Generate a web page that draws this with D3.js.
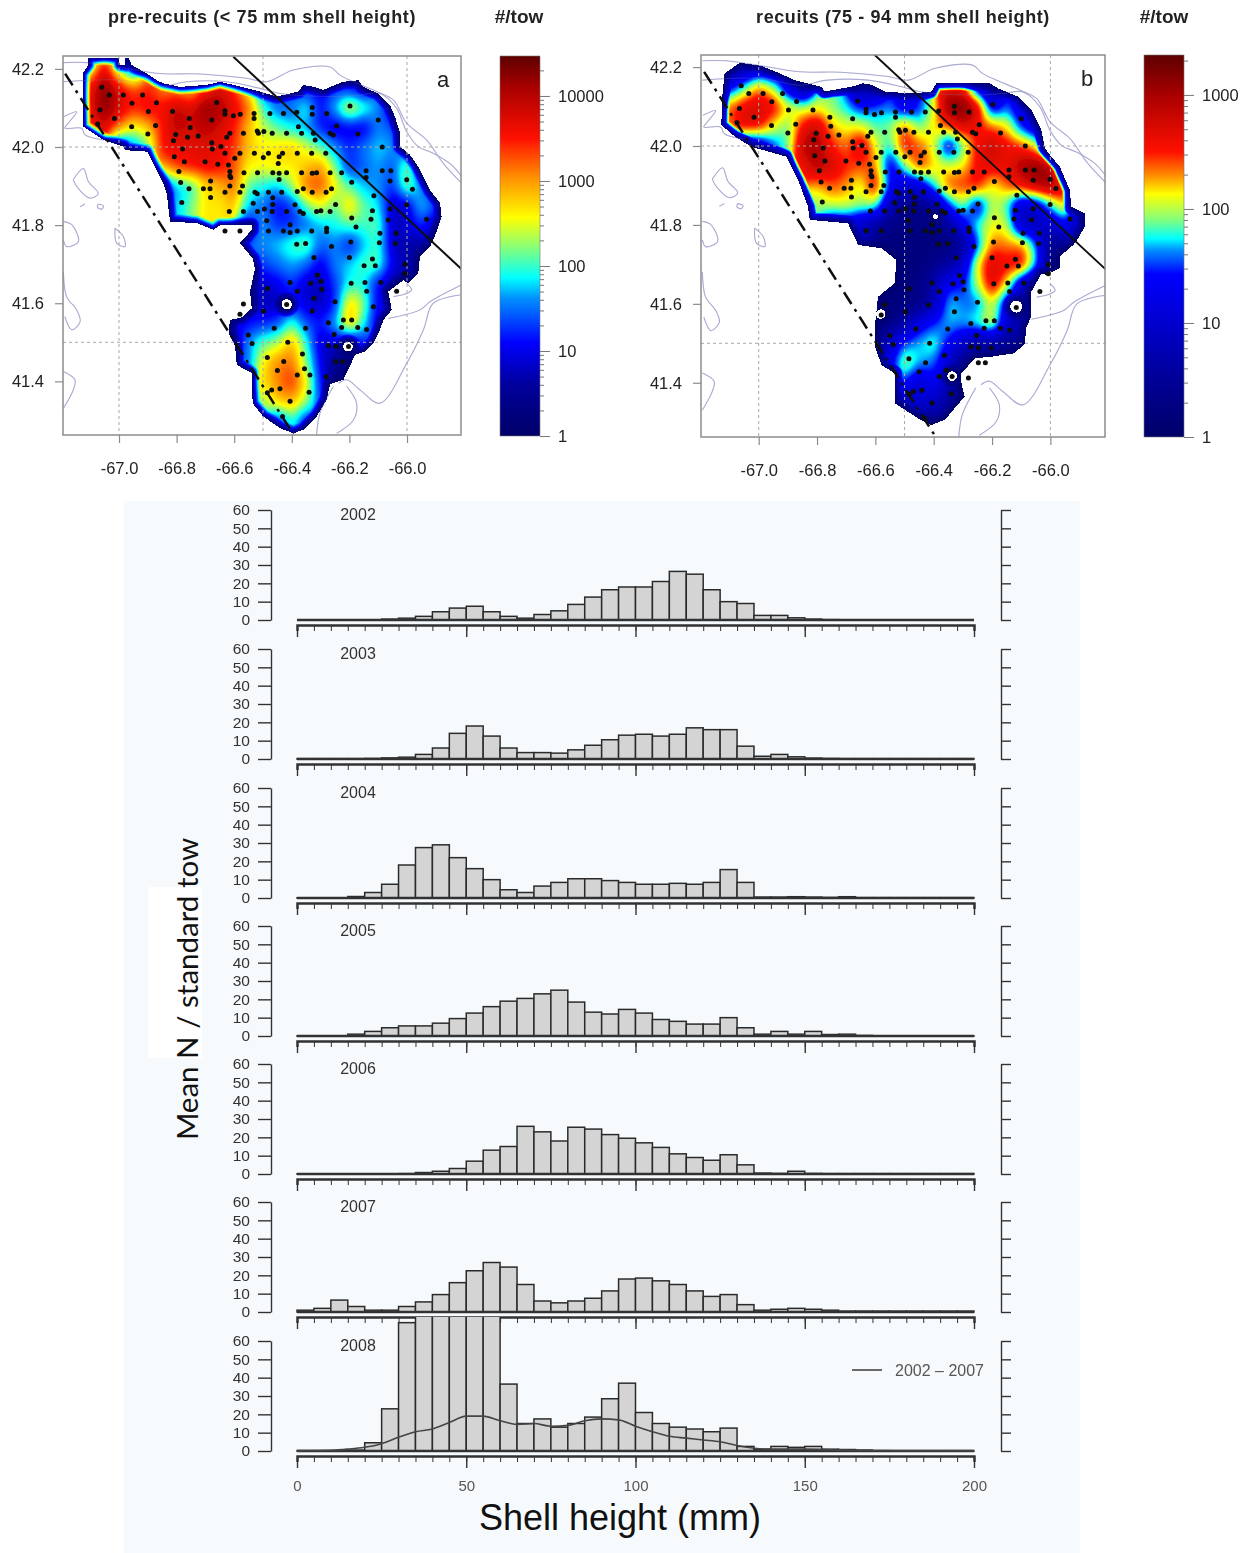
<!DOCTYPE html>
<html>
<head>
<meta charset="utf-8">
<title>Scallop density maps and shell height frequencies</title>
<script src="https://cdn.jsdelivr.net/npm/d3@7"></script>
<style>
  html, body { margin: 0; padding: 0; background: #fff; }
  svg { display: block; }
  text { font-family: "Liberation Sans", sans-serif; }
  .axisLine path, .axisLine line { stroke: #333; }
</style>
</head>
<body>
<svg id="chart" width="1251" height="1553"></svg>
<script>
/* ===== Data: histograms ===== */
const years = [2002, 2003, 2004, 2005, 2006, 2007, 2008];
const binStarts = d3.range(0, 200, 5);

const n2002 = [0,0,0,0,0,0.5,1,2,4.5,6.5,7.5,4.5,2,1,3,5,8.5,12.5,16.5,18,18,21,26.5,25,16.5,10,9,2.5,2.5,1.2,0.5,0.2,0,0,0,0,0,0,0,0];
const n2003 = [0.2,0.2,0.2,0.2,0.3,0.6,1,2.5,6,14,18,12.5,6,3.5,3.5,3.2,5,7.5,10.5,13,13.5,12.5,13.5,17,16,16,7,1.5,2.5,1.2,0.5,0.3,0.2,0.2,0.2,0.2,0.2,0.2,0.2,0.2];
const n2004 = [0.1,0.1,0.1,0.8,3,7.5,18,27.5,29,22,16,10,4.5,3,6.5,8.5,10.5,10.5,9.5,8.5,7.5,7.5,8,7.5,8.5,15.5,8.5,0.5,0.5,0.7,0.5,0.3,0.7,0.2,0.2,0.2,0.2,0.2,0.2,0.2];
const n2005 = [0.1,0.1,0.1,1,2.5,4.5,5.5,5.5,7,9.5,12.5,16,19,20.5,23,25,18.5,13,12,14.5,12.5,9,8,6.5,6.5,10,4.5,1,2.5,1,2.5,0.8,1,0.3,0.1,0.1,0.1,0.1,0.1,0.1];
const n2006 = [0.1,0.1,0.1,0.1,0.1,0.1,0.2,0.8,1.5,3,7,13,15,26,23,18,25.5,24.5,21.5,19.5,17,14.5,11,9,7.5,10.5,5,0.5,0.3,1.5,0.3,0.2,0.2,0.2,0.2,0.2,0.2,0.2,0.2,0.2];
const n2007 = [1,2,6.5,3,1,1,3,5.5,9.5,16,22.5,27,24.5,15,6,5,6,7.5,11.5,18,18.5,17,15,11.5,8.5,9.5,4,1,1.5,2,1.5,1,0.5,0.5,0.5,0.5,0.5,0.5,0.5,0.5];
const n2008 = [0.2,0.2,0.2,0.5,4.5,23,70,75,75,75,75,75,36.5,15,17.5,13,15,18.5,28.5,37,21,15,13,12,10.5,12.5,2.5,1,2.5,2,2.5,1,0.8,0.5,0.2,0.1,0.1,0.1,0.1,0.1];
const seriesByYear = [n2002, n2003, n2004, n2005, n2006, n2007, n2008];

const meanShell = [0,10,15,20,25,30,35,40,45,50,55,60,65,70,75,80,85,90,95,100,105,110,115,120,125,130,135,140,150,160,170,200];
const meanValue = [0.2,0.4,1,2,4,7.5,10.5,12,15.5,19,19,16.5,14.5,15,13.5,14,16.5,17.5,17,13.5,10.5,8,7,6,5,3,1.5,1,1,0.5,0.3,0.2];

const yTicks = [0,10,20,30,40,50,60];
const xLabels = [0,50,100,150,200];

/* ===== Data: maps ===== */
// grid of 10*log10(#/tow). rows go north to south, columns west to east
const gridLons = d3.range(27).map(i => -67.15 + i * 0.05);
const gridLats = d3.range(21).map(i => 42.25 - i * 0.05);

const gridA = [
[0,10,30,10,0,0,0,0,0,0,0,0,0,0,0,0,0,0,0,0,0,0,0,0,0,0,0],
[0,24,40,22,8,0,0,0,0,0,0,0,0,0,0,0,0,0,0,0,0,0,0,0,0,0,0],
[0,36,44,38,34,35,30,30,26,34,38,34,26,10,0,0,10,10,12,10,7,0,0,0,0,0,0],
[0,36,44,38,35,37,36,40,38,43,41,37,33,20,14,14,21,10,18,29,22,16,7,0,0,0,0],
[0,34,38,32,25,28,35,40,38,40,38,35,28,24,21,18,16,11,8,9,8,16,14,3,0,0,0],
[0,0,0,5,15,20,37,36,37,37,37,34,28,26,27,29,25,21,16,12,16,18,17,10,0,0,0],
[0,0,0,0,0,0,30,35,36,37,36,33,26,26,27,26,28,31,22,11,14,17,13,24,6,0,0],
[0,0,0,0,0,0,5,17,18,27,28,33,20,19,17,23,33,34,26,21,17,16,12,24,16,5,0],
[0,0,0,0,0,0,0,17,22,27,26,29,17,15,10,12,21,26,20,29,21,19,7,8,19,14,0],
[0,0,0,0,0,0,0,0,0,0,0,0,9,17,12,12,14,17,19,21,20,22,7,9,13,6,0],
[0,0,0,0,0,0,0,0,0,0,0,0,0,16,18,21,23,14,16,10,17,21,7,7,5,0,0],
[0,0,0,0,0,0,0,0,0,0,0,0,0,13,15,17,15,9,16,18,21,22,10,6,0,0,0],
[0,0,0,0,0,0,0,0,0,0,0,0,0,8,10,13,8,7,13,19,19,10,5,0,0,0,0],
[0,0,0,0,0,0,0,0,0,0,0,0,0,7,7,11,9,7,11,29,23,9,0,0,0,0,0],
[0,0,0,0,0,0,0,0,0,0,0,0,10,12,13,21,13,12,17,32,19,8,0,0,0,0,0],
[0,0,0,0,0,0,0,0,0,0,0,5,17,21,23,30,20,7,10,5,12,0,0,0,0,0,0],
[0,0,0,0,0,0,0,0,0,0,0,0,14,27,31,32,22,10,4,3,0,0,0,0,0,0,0],
[0,0,0,0,0,0,0,0,0,0,0,0,0,27,31,35,27,11,3,0,0,0,0,0,0,0,0],
[0,0,0,0,0,0,0,0,0,0,0,0,0,22,29,30,24,12,0,0,0,0,0,0,0,0,0],
[0,0,0,0,0,0,0,0,0,0,0,0,0,0,10,20,10,0,0,0,0,0,0,0,0,0,0],
[0,0,0,0,0,0,0,0,0,0,0,0,0,0,0,0,0,0,0,0,0,0,0,0,0,0,0]
];
const gridB = [
[0,0,0,0,0,0,0,0,0,0,0,0,0,0,0,0,0,0,0,0,0,0,0,0,0,0,0],
[0,5,5,8,5,0,0,0,0,0,0,0,0,0,0,0,0,0,0,0,0,0,0,0,0,0,0],
[0,12,18,24,20,10,3,0,0,0,5,5,0,0,0,0,25,26,8,4,0,0,0,0,0,0,0],
[0,24,27,28,27,22,20,20,19,17,14,16,16,10,14,20,33,33,30,10,16,10,0,0,0,0,0],
[0,23,28,27,21,18,26,29,22,21,21,18,19,25,18,22,24,28,25,24,22,14,9,0,0,0,0],
[0,0,5,8,15,18,30,30,25,23,29,21,17,27,24,21,10,18,26,29,26,25,22,5,0,0,0],
[0,0,0,0,0,0,25,30,28,25,24,24,11,19,26,22,21,21,26,27,26,30,32,32,8,0,0],
[0,0,0,0,0,0,0,22,24,23,20,28,14,10,11,18,25,25,27,20,24,27,30,31,28,0,0],
[0,0,0,0,0,0,0,19,21,21,20,20,8,3,3,5,15,20,10,21,18,8,10,17,24,6,0],
[0,0,0,0,0,0,0,0,9,11,8,5,3,3,3,3,5,13,19,21,21,8,8,9,14,7,0],
[0,0,0,0,0,0,0,0,0,0,0,0,2,2,2,2,2,4,15,24,23,24,17,3,4,0,0],
[0,0,0,0,0,0,0,0,0,0,0,0,0,2,2,4,6,10,22,28,26,28,18,2,0,0,0],
[0,0,0,0,0,0,0,0,0,0,0,0,0,2,3,7,14,14,20,28,22,9,2,0,0,0,0],
[0,0,0,0,0,0,0,0,0,0,0,0,2,2,3,7,18,16,15,21,12,4,0,0,0,0,0],
[0,0,0,0,0,0,0,0,0,0,0,2,3,6,13,15,17,17,19,23,10,6,0,0,0,0,0],
[0,0,0,0,0,0,0,0,0,0,0,3,10,16,17,19,14,9,4,5,3,0,0,0,0,0,0],
[0,0,0,0,0,0,0,0,0,0,0,0,12,21,17,16,10,3,0,0,0,0,0,0,0,0,0],
[0,0,0,0,0,0,0,0,0,0,0,0,0,15,9,14,8,3,0,0,0,0,0,0,0,0,0],
[0,0,0,0,0,0,0,0,0,0,0,0,0,6,12,9,5,2,0,0,0,0,0,0,0,0,0],
[0,0,0,0,0,0,0,0,0,0,0,0,0,0,3,3,0,0,0,0,0,0,0,0,0,0,0],
[0,0,0,0,0,0,0,0,0,0,0,0,0,0,0,0,0,0,0,0,0,0,0,0,0,0,0]
];

// survey outlines [lon, lat]
const outlineA = [[-67.126,42.188],[-67.106,42.21],[-67.106,42.229],[-67.002,42.229],[-66.997,42.21],[-66.979,42.21],[-66.979,42.229],[-66.968,42.229],[-66.956,42.21],[-66.904,42.188],[-66.869,42.171],[-66.846,42.163],[-66.788,42.154],[-66.696,42.159],[-66.649,42.167],[-66.603,42.159],[-66.51,42.142],[-66.453,42.129],[-66.377,42.142],[-66.36,42.159],[-66.325,42.154],[-66.29,42.146],[-66.267,42.154],[-66.221,42.167],[-66.169,42.171],[-66.152,42.154],[-66.1,42.137],[-66.059,42.107],[-66.042,42.078],[-66.024,42.035],[-66.024,42.001],[-65.99,41.98],[-65.961,41.95],[-65.92,41.89],[-65.885,41.856],[-65.88,41.822],[-65.897,41.783],[-65.92,41.745],[-65.955,41.719],[-65.961,41.676],[-65.995,41.651],[-66.013,41.659],[-66.065,41.63],[-66.053,41.583],[-66.082,41.557],[-66.094,41.532],[-66.117,41.497],[-66.146,41.476],[-66.181,41.468],[-66.198,41.438],[-66.221,41.404],[-66.267,41.393],[-66.279,41.353],[-66.314,41.31],[-66.36,41.276],[-66.395,41.267],[-66.441,41.28],[-66.499,41.31],[-66.536,41.344],[-66.539,41.421],[-66.591,41.442],[-66.597,41.489],[-66.62,41.523],[-66.615,41.557],[-66.574,41.564],[-66.539,41.587],[-66.545,41.63],[-66.534,41.668],[-66.528,41.689],[-66.536,41.715],[-66.58,41.754],[-66.539,41.788],[-66.539,41.8],[-66.591,41.8],[-66.649,41.8],[-66.672,41.788],[-66.73,41.805],[-66.823,41.809],[-66.834,41.881],[-66.846,41.907],[-66.875,41.95],[-66.902,41.988],[-66.979,41.992],[-66.985,42.001],[-67.054,42.018],[-67.089,42.035],[-67.124,42.052]];
const outlineB = [[-67.128,42.053],[-67.126,42.117],[-67.117,42.184],[-67.065,42.211],[-66.991,42.203],[-66.934,42.186],[-66.877,42.167],[-66.785,42.15],[-66.774,42.138],[-66.671,42.152],[-66.642,42.159],[-66.614,42.155],[-66.568,42.138],[-66.477,42.133],[-66.408,42.138],[-66.391,42.159],[-66.305,42.16],[-66.208,42.159],[-66.179,42.146],[-66.111,42.125],[-66.065,42.091],[-66.031,42.041],[-66.019,41.994],[-65.997,41.973],[-65.968,41.948],[-65.934,41.889],[-65.928,41.846],[-65.882,41.829],[-65.882,41.796],[-65.905,41.766],[-65.922,41.749],[-65.968,41.72],[-65.968,41.69],[-66.014,41.673],[-66.031,41.677],[-66.065,41.631],[-66.065,41.568],[-66.082,41.542],[-66.088,41.5],[-66.122,41.475],[-66.202,41.466],[-66.259,41.462],[-66.305,41.424],[-66.305,41.399],[-66.294,41.365],[-66.362,41.306],[-66.408,41.293],[-66.454,41.31],[-66.534,41.348],[-66.534,41.424],[-66.579,41.445],[-66.602,41.492],[-66.602,41.542],[-66.591,41.618],[-66.534,41.652],[-66.528,41.711],[-66.579,41.741],[-66.659,41.749],[-66.694,41.804],[-66.825,41.813],[-66.831,41.846],[-66.865,41.914],[-66.905,41.973],[-67.025,41.998],[-67.082,42.024]];

// holes in the surface [lon, lat, radius in degrees of latitude]
const holesA = [[-66.418,41.597,0.013],[-66.205,41.489,0.012]];
const holesB = [[-66.582,41.574,0.012],[-66.117,41.593,0.015],[-66.337,41.417,0.012],[-66.394,41.821,0.006]];

const stations = [[-67.06,42.153],[-67.034,42.133],[-66.985,42.133],[-66.918,42.133],[-66.955,42.112],[-66.87,42.113],[-66.898,42.091],[-67.066,42.095],[-67.016,42.073],[-67.074,42.059],[-66.956,42.052],[-66.873,42.055],[-66.9,42.033],[-66.814,42.091],[-66.756,42.073],[-66.753,42.05],[-66.803,42.032],[-66.811,42.016],[-66.762,42.025],[-66.725,42.028],[-66.678,42.069],[-66.661,42.114],[-66.632,42.093],[-66.632,42.084],[-66.603,42.08],[-66.579,42.084],[-66.531,42.086],[-66.531,42.073],[-66.52,42.041],[-66.516,42.035],[-66.497,42.04],[-66.468,42.035],[-66.568,42.035],[-66.615,42.035],[-66.626,42.025],[-66.418,42.035],[-66.377,42.052],[-66.366,42.035],[-66.325,42.035],[-66.319,42.018],[-66.267,42.035],[-66.256,42.031],[-66.244,42.054],[-66.279,42.086],[-66.329,42.101],[-66.329,42.084],[-66.383,42.089],[-66.429,42.086],[-66.476,42.086],[-66.198,42.105],[-66.1,42.069],[-66.171,42.033],[-66.086,42.0],
[-66.678,42.011],[-66.676,41.995],[-66.646,42.001],[-66.779,41.995],[-66.632,41.984],[-66.58,41.984],[-66.53,41.984],[-66.481,41.984],[-66.499,41.973],[-66.444,41.975],[-66.432,41.984],[-66.381,41.984],[-66.331,41.984],[-66.282,41.984],[-66.808,41.975],[-66.773,41.962],[-66.701,41.962],[-66.598,41.971],[-66.62,41.954],[-66.657,41.956],[-66.447,41.958],[-66.792,41.937],[-66.682,41.913],[-66.615,41.937],[-66.615,41.926],[-66.612,41.922],[-66.566,41.934],[-66.519,41.934],[-66.466,41.934],[-66.444,41.933],[-66.444,41.917],[-66.418,41.934],[-66.366,41.934],[-66.329,41.933],[-66.314,41.934],[-66.267,41.934],[-66.227,41.934],[-66.142,41.939],[-66.086,41.939],[-66.056,41.939],[-66.142,41.922],[-66.059,41.913],[-66.001,41.916],[-65.981,41.892],
[-66.786,41.909],[-66.757,41.893],[-66.707,41.893],[-66.684,41.893],[-66.632,41.884],[-66.615,41.9],[-66.571,41.9],[-66.58,41.884],[-66.682,41.871],[-66.782,41.858],[-66.528,41.884],[-66.52,41.88],[-66.481,41.884],[-66.435,41.884],[-66.466,41.87],[-66.381,41.886],[-66.36,41.893],[-66.329,41.884],[-66.281,41.884],[-66.262,41.893],[-66.192,41.91],[-66.115,41.875],[-66.534,41.856],[-66.466,41.853],[-66.495,41.841],[-66.468,41.835],[-66.519,41.835],[-66.617,41.835],[-66.568,41.835],[-66.418,41.835],[-66.389,41.852],[-66.372,41.835],[-66.36,41.83],[-66.314,41.835],[-66.299,41.837],[-66.267,41.835],[-66.248,41.853],[-66.192,41.818],[-66.177,41.795],[-66.12,41.837],[-66.125,41.815],[-66.059,41.841],[-66.001,41.852],[-65.932,41.815],[-66.065,41.813],
[-66.487,41.811],[-66.481,41.785],[-66.429,41.785],[-66.406,41.781],[-66.406,41.801],[-66.381,41.785],[-66.331,41.785],[-66.279,41.792],[-66.279,41.783],[-66.094,41.779],[-66.038,41.779],[-66.632,41.785],[-66.58,41.785],
[-66.383,41.751],[-66.352,41.753],[-66.262,41.745],[-66.195,41.757],[-66.096,41.755],[-66.04,41.753],[-66.323,41.717],[-66.2,41.717],[-66.12,41.713],[-66.149,41.696],[-66.11,41.696],[-66.007,41.7],[-66.007,41.676],[-66.311,41.672],[-66.299,41.656],[-66.406,41.653],[-66.334,41.651],[-66.296,41.636],[-66.381,41.631],[-66.194,41.651],[-66.146,41.653],[-66.14,41.631],[-66.091,41.653],[-66.036,41.631],[-66.485,41.638],[-66.323,41.613],[-66.25,41.604],[-66.418,41.597],[-66.329,41.58],[-66.568,41.598],[-66.58,41.572],[-66.117,41.591],[-66.498,41.58],[-66.273,41.55],[-66.221,41.557],[-66.192,41.557],[-66.227,41.538],[-66.171,41.538],[-66.461,41.536],[-66.352,41.536],[-66.253,41.52],[-66.14,41.533],[-66.551,41.519],[-66.538,41.497],[-66.414,41.5],[-66.273,41.491],[-66.247,41.489],[-66.203,41.489],[-66.363,41.47],[-66.485,41.461],[-66.428,41.451],[-66.247,41.451],[-66.223,41.451],[-66.356,41.432],[-66.45,41.428],[-66.381,41.416],[-66.337,41.416],[-66.281,41.412],[-66.441,41.381],[-66.47,41.378],[-66.485,41.371],[-66.34,41.372],[-66.406,41.349],[-66.432,41.31]];

// depth contours and coast, [lon, lat]
const contours = [
  [[-67.193,42.216],[-67.112,42.216],[-66.973,42.201],[-66.858,42.188],[-66.719,42.187],[-66.557,42.176],[-66.487,42.167],[-66.395,42.197],[-66.267,42.205],[-66.233,42.184],[-66.186,42.167],[-66.105,42.142],[-66.047,42.12],[-66.001,42.061],[-65.932,42.018],[-65.874,41.958],[-65.81,41.907]],
  [[-67.193,42.167],[-67.101,42.171],[-66.985,42.171],[-66.858,42.154],[-66.765,42.167],[-66.626,42.167],[-66.51,42.15],[-66.441,42.137],[-66.256,42.129],[-66.163,42.133],[-66.094,42.137],[-66.036,42.099],[-66.001,42.039],[-65.961,42.001],[-65.909,41.984],[-65.845,41.954],[-65.81,41.924]],
  [[-67.191,42.078],[-67.147,42.09],[-67.176,42.061],[-67.188,42.048],[-67.13,42.048],[-67.118,42.031],[-67.054,42.018]],
  [[-67.159,41.916],[-67.124,41.945],[-67.106,41.911],[-67.072,41.881],[-67.101,41.869],[-67.147,41.899],[-67.159,41.916]],
  [[-67.135,41.847],[-67.118,41.854]],
  [[-67.072,41.854],[-67.054,41.849],[-67.06,41.841],[-67.075,41.846],[-67.072,41.854]],
  [[-67.193,41.809],[-67.164,41.801],[-67.141,41.758],[-67.182,41.745],[-67.193,41.762]],
  [[-67.014,41.792],[-66.985,41.771],[-66.979,41.745],[-67.008,41.754],[-67.014,41.792]],
  [[-67.193,41.681],[-67.182,41.617],[-67.147,41.583],[-67.135,41.553],[-67.164,41.532],[-67.188,41.566]],
  [[-67.193,41.425],[-67.153,41.404],[-67.159,41.378],[-67.193,41.331]],
  [[-65.81,41.647],[-65.92,41.604],[-65.955,41.583],[-66.065,41.561]],
  [[-65.816,41.621],[-65.909,41.6],[-65.943,41.532],[-66.001,41.446],[-66.094,41.344],[-66.163,41.378],[-66.209,41.404],[-66.238,41.395]],
  [[-66.209,41.387],[-66.175,41.344],[-66.186,41.301],[-66.244,41.267]],
  [[-66.256,41.387],[-66.302,41.319],[-66.314,41.263]],
  [[-66.001,41.651],[-65.984,41.634],[-66.001,41.625],[-66.047,41.617]]
];
const solidLine = [[-66.603,42.231],[-65.81,41.687]];
const dashLine = [[-67.187,42.188],[-66.395,41.265]];
const gridLonLines = [-67, -66.5, -66];
const gridLatLines = [42, 41.5];
const lonTicks = [-67, -66.8, -66.6, -66.4, -66.2, -66];
const latTicks = [41.4, 41.6, 41.8, 42, 42.2];

// colour ramps, stops are log10(#/tow)
const rampColors = ["#000068","#00009c","#0000ff","#0090ff","#00ffff","#80ff80","#ffff00","#ff9000","#ff1000","#a80000","#5e0000"];
const rampA = [0, 0.6, 1.1, 1.62, 1.86, 2.2, 2.57, 3.04, 3.5, 4.1, 4.47];
const rampB = [0, 0.55, 1.43, 1.64, 1.74, 1.9, 2.13, 2.29, 2.5, 3.0, 3.35];

const svg = d3.select("#chart");
const defs = svg.append("defs");
defs.append("filter").attr("id", "soft")
  .attr("x", "-2%").attr("y", "-2%").attr("width", "104%").attr("height", "104%")
  .append("feGaussianBlur").attr("stdDeviation", 0.5);

/* ===== Map surface ===== */
function surfaceAt(grid, lon, lat) {
  // gaussian smoothing of the hand read grid, empty cells (0) stay out of it
  const fx = (lon - gridLons[0]) / 0.05, fy = (gridLats[0] - lat) / 0.05;
  const cx = Math.round(fx), cy = Math.round(fy);
  let sum = 0, wsum = 0;
  for (let j = cy - 2; j <= cy + 2; j++) {
    if (j < 0 || j >= grid.length) continue;
    for (let i = cx - 2; i <= cx + 2; i++) {
      if (i < 0 || i >= grid[0].length || !grid[j][i]) continue;
      const d2 = (i - fx) * (i - fx) + (j - fy) * (j - fy);
      const w = Math.exp(-d2 / (2 * 0.55 * 0.55));
      sum += w * grid[j][i];
      wsum += w;
    }
  }
  return wsum ? sum / wsum : 0;
}

function edgeDistance(px, py, poly) {
  let best = Infinity;
  for (let i = 0; i < poly.length; i++) {
    const a = poly[i], b = poly[(i + 1) % poly.length];
    const dx = b[0] - a[0], dy = b[1] - a[1];
    const t = Math.max(0, Math.min(1, ((px - a[0]) * dx + (py - a[1]) * dy) / (dx * dx + dy * dy)));
    const ex = a[0] + t * dx - px, ey = a[1] + t * dy - py;
    const d = ex * ex + ey * ey;
    if (d < best) best = d;
  }
  return Math.sqrt(best);
}

function drawSurface(g, cfg, x, y, color) {
  const [x0, x1] = x.range(), [y1, y0] = y.range();
  const w = Math.round(x1 - x0), h = Math.round(y1 - y0);
  const canvas = document.createElement("canvas");
  canvas.width = w; canvas.height = h;
  const ctx = canvas.getContext("2d");
  const img = ctx.createImageData(w, h);
  const poly = cfg.outline.map(p => [x(p[0]), y(p[1])]);
  const holes = cfg.holes.map(p => [x(p[0]), y(p[1]), y(p[1] - p[2]) - y(p[1])]);
  for (let j = 0; j < h; j++) {
    for (let i = 0; i < w; i++) {
      const px = x0 + i + 0.5, py = y0 + j + 0.5;
      if (!d3.polygonContains(poly, [px, py])) continue;
      let d = edgeDistance(px, py, poly);
      let inHole = false;
      holes.forEach(o => {
        const r = Math.hypot(px - o[0], py - o[1]) - o[2];
        if (r < 0) inHole = true;
        if (r < d) d = r;
      });
      if (inHole) continue;
      const v = surfaceAt(cfg.grid, x.invert(px), y.invert(py)) * Math.min(1, 0.1 + d / 9);
      const c = d3.rgb(color(v / 10));
      const k = (j * w + i) * 4;
      img.data[k] = c.r; img.data[k + 1] = c.g; img.data[k + 2] = c.b; img.data[k + 3] = 255;
    }
  }
  ctx.putImageData(img, 0, 0);
  g.append("image")
    .attr("x", x0).attr("y", y0)
    .attr("width", w).attr("height", h)
    .attr("href", canvas.toDataURL());
}

function drawMap(cfg) {
  const x = d3.scaleLinear().domain(cfg.lonDomain).range([cfg.left, cfg.right]);
  const y = d3.scaleLinear().domain(cfg.latDomain).range([cfg.bottom, cfg.top]);
  const color = d3.scaleLinear().domain(cfg.ramp).range(rampColors).clamp(true);
  const line = d3.line().x(d => x(d[0])).y(d => y(d[1]));
  const smooth = d3.line().x(d => x(d[0])).y(d => y(d[1])).curve(d3.curveCatmullRom);
  const clipId = "clip-" + cfg.letter;

  svg.append("clipPath").attr("id", clipId)
    .append("rect")
    .attr("x", cfg.left).attr("y", cfg.top)
    .attr("width", cfg.right - cfg.left).attr("height", cfg.bottom - cfg.top);

  const g = svg.append("g").attr("filter", "url(#soft)");
  const inner = g.append("g").attr("clip-path", `url(#${clipId})`);

  inner.selectAll("path.contour").data(contours).join("path")
    .attr("class", "contour")
    .attr("d", smooth).attr("fill", "none")
    .attr("stroke", "#b5b5de").attr("stroke-width", 1.1);

  drawSurface(inner, cfg, x, y, color);

  // the contours still show faintly through the surface
  inner.selectAll("path.contourTop").data(contours).join("path")
    .attr("class", "contourTop")
    .attr("d", smooth).attr("fill", "none")
    .attr("stroke", "#8a8ab0").attr("stroke-width", 1).attr("opacity", 0.25);

  inner.selectAll("line.gx").data(gridLonLines).join("line")
    .attr("class", "gx")
    .attr("x1", d => x(d)).attr("x2", d => x(d))
    .attr("y1", cfg.top).attr("y2", cfg.bottom)
    .attr("stroke", "#a8a8a8").attr("stroke-width", 1).attr("stroke-dasharray", "3,3");
  inner.selectAll("line.gy").data(gridLatLines).join("line")
    .attr("class", "gy")
    .attr("y1", d => y(d)).attr("y2", d => y(d))
    .attr("x1", cfg.left).attr("x2", cfg.right)
    .attr("stroke", "#a8a8a8").attr("stroke-width", 1).attr("stroke-dasharray", "3,3");

  inner.append("path").attr("d", line(solidLine))
    .attr("stroke", "#111").attr("stroke-width", 2).attr("fill", "none");
  inner.append("path").attr("d", line(dashLine))
    .attr("stroke", "#111").attr("stroke-width", 2.5).attr("fill", "none")
    .attr("stroke-dasharray", "14,6,3,6");

  inner.selectAll("circle").data(stations).join("circle")
    .attr("cx", d => x(d[0])).attr("cy", d => y(d[1])).attr("r", 2.5)
    .attr("fill", "#0b0b0b");

  g.append("rect")
    .attr("x", cfg.left).attr("y", cfg.top)
    .attr("width", cfg.right - cfg.left).attr("height", cfg.bottom - cfg.top)
    .attr("fill", "none").attr("stroke", "#8c8c8c").attr("stroke-width", 1.5);

  const xAxis = g.append("g").attr("transform", `translate(0,${cfg.bottom})`)
    .call(d3.axisBottom(x).tickValues(lonTicks).tickSize(8).tickPadding(19).tickFormat(d => d.toFixed(1)));
  const yAxis = g.append("g").attr("transform", `translate(${cfg.left},0)`)
    .call(d3.axisLeft(y).tickValues(latTicks).tickSize(8).tickPadding(11).tickFormat(d => d.toFixed(1)));
  [xAxis, yAxis].forEach(a => {
    a.select(".domain").remove();
    a.selectAll("line").attr("stroke", "#8c8c8c").attr("stroke-width", 1.2);
    a.selectAll("text").style("font-size", "16.5px").attr("fill", "#222");
  });

  svg.append("text").attr("x", cfg.right - 18).attr("y", cfg.top + 31)
    .attr("text-anchor", "middle").style("font-size", "22px").attr("fill", "#222")
    .text(cfg.letter);

  svg.append("text").attr("x", cfg.titleX).attr("y", 23)
    .attr("text-anchor", "middle").style("font-size", "18px").style("font-weight", "bold")
    .style("letter-spacing", "0.6px").attr("fill", "#222").text(cfg.title);
  svg.append("text").attr("x", cfg.unitX).attr("y", 23)
    .attr("text-anchor", "middle").style("font-size", "19px").style("font-weight", "bold")
    .attr("fill", "#222").text("#/tow");

  drawColorbar(cfg, color);
}

function drawColorbar(cfg, color) {
  const top = cfg.barTop, bottom = cfg.barBottom;
  const maxLog = cfg.ramp[cfg.ramp.length - 1];
  const gradId = "grad-" + cfg.letter;
  const grad = defs.append("linearGradient").attr("id", gradId)
    .attr("x1", 0).attr("x2", 0).attr("y1", 1).attr("y2", 0);
  grad.selectAll("stop").data(cfg.ramp).join("stop")
    .attr("offset", d => d / maxLog)
    .attr("stop-color", d => color(d));
  svg.append("rect")
    .attr("x", cfg.barX).attr("y", top)
    .attr("width", 40).attr("height", bottom - top)
    .attr("fill", `url(#${gradId})`).attr("stroke", "#777").attr("stroke-width", 0.6);

  const scale = d3.scaleLog().domain([1, Math.pow(10, maxLog)]).range([bottom, top]);
  const decades = d3.range(0, Math.floor(maxLog) + 1).map(e => Math.pow(10, e));
  const minors = [];
  decades.forEach(base => d3.range(2, 10).forEach(m => {
    if (base * m < Math.pow(10, maxLog)) minors.push(base * m);
  }));
  const minorAxis = svg.append("g").attr("transform", `translate(${cfg.barX + 40},0)`)
    .call(d3.axisRight(scale).tickValues(minors).tickSize(4).tickFormat(""));
  const majorAxis = svg.append("g").attr("transform", `translate(${cfg.barX + 40},0)`)
    .call(d3.axisRight(scale).tickValues(decades).tickSize(10).tickPadding(8).tickFormat(d3.format("d")));
  [minorAxis, majorAxis].forEach(a => {
    a.select(".domain").remove();
    a.selectAll("line").attr("stroke", "#777").attr("stroke-width", 1);
    a.selectAll("text").style("font-size", "16.5px").attr("fill", "#222");
  });
}

drawMap({
  letter: "a", grid: gridA, outline: outlineA, holes: holesA, ramp: rampA,
  lonDomain: [-67 + (63 - 119) / 288, -67 + (461 - 119) / 288],
  latDomain: [42 - (435 - 147) / 390.6, 42 + (147 - 56) / 390.6],
  left: 63, right: 461, top: 56, bottom: 435,
  title: "pre-recuits (< 75 mm shell height)", titleX: 262, unitX: 519,
  barX: 500, barTop: 56, barBottom: 436
});
drawMap({
  letter: "b", grid: gridB, outline: outlineB, holes: holesB, ramp: rampB,
  lonDomain: [-67 + (701 - 758.7) / 291.7, -67 + (1105 - 758.7) / 291.7],
  latDomain: [41.5 - (437 - 343.3) / 394.6, 42 + (146 - 55) / 394.6],
  left: 701, right: 1105, top: 55, bottom: 437,
  title: "recuits (75 - 94 mm shell height)", titleX: 903, unitX: 1164,
  barX: 1144, barTop: 55, barBottom: 437
});

/* ===== Histograms ===== */
svg.append("rect").attr("x", 124).attr("y", 501)
  .attr("width", 956).attr("height", 1052).attr("fill", "#f7fafd");
svg.append("rect").attr("x", 148).attr("y", 887)
  .attr("width", 54).attr("height", 171).attr("fill", "#fff");

const x = d3.scaleLinear().domain([0, 200]).range([297, 974]);
const yZero = [620, 759, 898, 1036, 1174, 1312, 1451];
const panelHeight = 110;

const hist = svg.append("g").attr("filter", "url(#soft)");

years.forEach((year, idx) => {
  const y = d3.scaleLinear().domain([0, 60]).range([yZero[idx], yZero[idx] - panelHeight]);
  const g = hist.append("g").attr("class", "panel");
  const axisY = yZero[idx] + 5;

  const clipId = "barclip-" + year;
  svg.append("clipPath").attr("id", clipId).append("rect")
    .attr("x", x(0) - 2).attr("y", idx === 6 ? yZero[5] + 5 : y(60) - 20)
    .attr("width", x(200) - x(0) + 4).attr("height", 260);

  g.append("g").attr("clip-path", `url(#${clipId})`)
    .selectAll("rect").data(seriesByYear[idx]).join("rect")
    .attr("x", (d, i) => x(binStarts[i]))
    .attr("width", x(5) - x(0))
    .attr("y", d => y(d))
    .attr("height", d => y(0) - y(d))
    .attr("fill", "#d4d4d4").attr("stroke", "#2c2c2c").attr("stroke-width", 1.5);

  g.append("line")
    .attr("x1", x(0)).attr("x2", x(200))
    .attr("y1", y(0)).attr("y2", y(0))
    .attr("stroke", "#333").attr("stroke-width", 2.6);

  const minor = g.append("g").attr("class", "axisLine").attr("transform", `translate(0,${axisY})`)
    .call(d3.axisBottom(x).tickValues(d3.range(0, 201, 5)).tickSize(6).tickFormat(""));
  const major = g.append("g").attr("class", "axisLine").attr("transform", `translate(0,${axisY})`)
    .call(d3.axisBottom(x).tickValues(xLabels).tickSize(12).tickPadding(12)
      .tickFormat(idx === 6 ? d3.format("d") : ""));
  minor.select(".domain").attr("stroke-width", 2.4);
  major.select(".domain").remove();
  major.selectAll("line").attr("stroke-width", 1.4);
  major.selectAll("text").style("font-size", "15px").attr("fill", "#555");

  const left = g.append("g").attr("class", "axisLine").attr("transform", "translate(271,0)")
    .call(d3.axisLeft(y).tickValues(yTicks).tickSize(13).tickSizeOuter(0).tickPadding(8));
  left.selectAll("text").style("font-size", "15.5px").attr("fill", "#333");
  left.selectAll("line").attr("stroke-width", 1.4);
  left.select(".domain").attr("stroke-width", 1.4);

  const right = g.append("g").attr("class", "axisLine").attr("transform", "translate(1001,0)")
    .call(d3.axisRight(y).tickValues(yTicks).tickSize(10).tickSizeOuter(0).tickFormat(""));
  right.selectAll("line").attr("stroke-width", 1.4);
  right.select(".domain").attr("stroke-width", 1.4);

  g.append("text").attr("x", 358).attr("y", y(60) + 10)
    .attr("text-anchor", "middle").style("font-size", "16px").attr("fill", "#333")
    .text(year);

  if (year === 2008) {
    const mean = d3.line().x((d, i) => x(meanShell[i])).y(d => y(d)).curve(d3.curveMonotoneX);
    g.append("path").attr("d", mean(meanValue))
      .attr("fill", "none").attr("stroke", "#444").attr("stroke-width", 1.6);
    g.append("line").attr("x1", 852).attr("x2", 882)
      .attr("y1", 1370).attr("y2", 1370)
      .attr("stroke", "#444").attr("stroke-width", 1.6);
    g.append("text").attr("x", 895).attr("y", 1376)
      .style("font-size", "16px").attr("fill", "#555").text("2002 \u2013 2007");
  }
});

svg.append("text").attr("x", 620).attr("y", 1530)
  .attr("text-anchor", "middle").style("font-size", "36px").attr("fill", "#111")
  .text("Shell height (mm)");
svg.append("text").attr("transform", "translate(198,989) rotate(-90)")
  .attr("text-anchor", "middle")
  .style("font-family", "Lato").style("font-size", "29.5px").attr("fill", "#111")
  .text("Mean N / standard tow");
</script>
</body>
</html>
